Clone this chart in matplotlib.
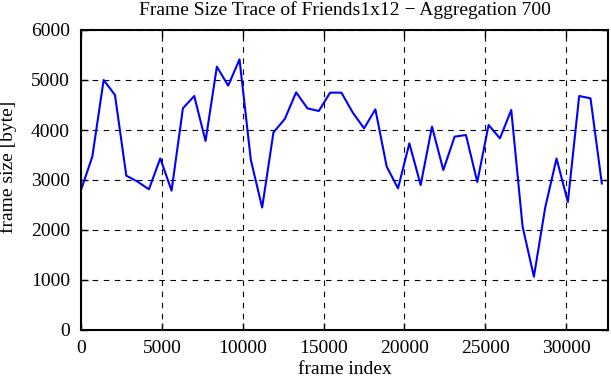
import numpy as np
import matplotlib
matplotlib.use("Agg")
import matplotlib.pyplot as plt

# aggregated frame sizes, one value per 700 frames
aggregation = 700
frame_size = [2800, 3467, 5000, 4700, 3087, 2967, 2813, 3433, 2787, 4433,
              4680, 3780, 5267, 4887, 5413, 3400, 2450, 3953, 4220, 4753,
              4433, 4380, 4747, 4747, 4350, 4033, 4413, 3267, 2833, 3733,
              2900, 4067, 3200, 3867, 3900, 2960, 4100, 3833, 4400, 2070,
              1067, 2450, 3430, 2560, 4680, 4633, 2930]
frame_index = np.arange(len(frame_size)) * aggregation

plt.rcParams['font.family'] = ['Liberation Serif', 'DejaVu Serif']
plt.rcParams['font.size'] = 14

fig = plt.figure(figsize=(6.11, 3.8), dpi=100)
ax = fig.add_axes([81 / 611, 50 / 380, 527.3 / 611, 300 / 380])

ax.plot(frame_index, frame_size, color='#0000ff', linewidth=1.5)

ax.set_xlim(0, 32600)
ax.set_ylim(0, 6000)
ax.set_xticks(np.arange(0, 30001, 5000))
ax.set_yticks(np.arange(0, 6001, 1000))
ax.grid(True, color='black', linestyle=(0, (5, 5)), linewidth=0.8)
ax.tick_params(direction='in', top=True, right=True, length=5, width=1)
ax.tick_params(axis='x', pad=7)
ax.tick_params(axis='y', pad=8)
for s in ax.spines.values():
    s.set_linewidth(1.5)

ax.set_xlabel('frame index', labelpad=3)
ax.set_ylabel('frame size [byte]', va='center')
ax.yaxis.set_label_coords(-0.1385, 0.545)
ax.set_title('Frame Size Trace of Friends1x12 \u2212 Aggregation 700', fontsize=14, pad=11)

fig.savefig('out.png', dpi=100)
